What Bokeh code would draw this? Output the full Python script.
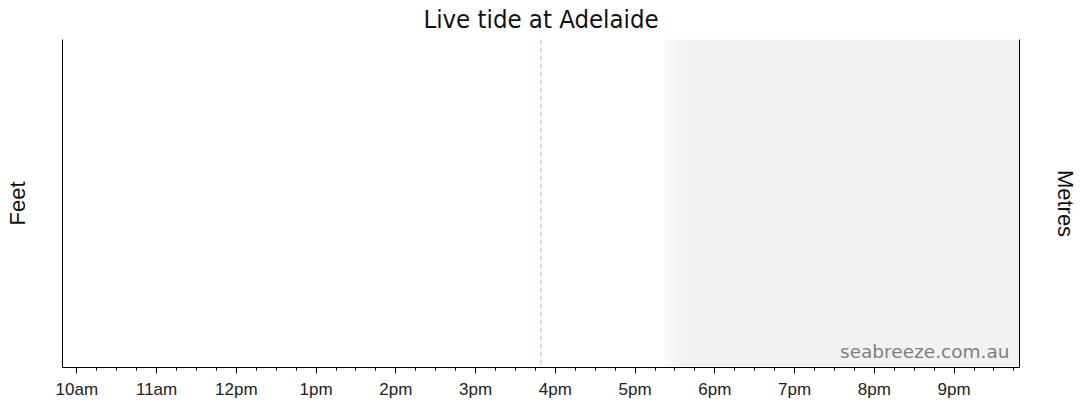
import numpy as np
from bokeh.plotting import figure
from bokeh.models import (LinearAxis, FixedTicker, Span, Label, Range1d,
                          ColumnDataSource)
from bokeh.embed import file_html
from bokeh.resources import INLINE

# ---- data ----
title_text = "Live tide at Adelaide"
now_hour = 15.82            # current time (about 3:49pm)
window_hours = 6.0          # chart shows now +/- 6 hours
tick_hours = [10, 11, 12, 13, 14, 15, 16, 17, 18, 19, 20, 21]
tick_labels = ["10am", "11am", "12pm", "1pm", "2pm", "3pm",
               "4pm", "5pm", "6pm", "7pm", "8pm", "9pm"]
minor_step = 0.25
night_fade_start = 17.34    # dusk fade begins
night_fade_end = 17.63      # full night shading
tide_feet = []              # no tide readings available
tide_times = []

x_start = now_hour - window_hours
x_end = now_hour + window_hours

FW, FH = 957, 328

p = figure(frame_width=FW, frame_height=FH, output_backend="svg", toolbar_location=None,
           x_range=Range1d(x_start, x_end), y_range=Range1d(0, 1),
           y_axis_location=None,
           min_border_left=62, min_border_right=56,
           min_border_top=39, min_border_bottom=39)
p.outline_line_color = None
p.grid.visible = False
p.background_fill_color = "white"
p.border_fill_color = "white"

# title
p.title.text = title_text
p.title.align = "center"
p.title.vertical_align = "top"
p.title.text_font = "DejaVu Sans Condensed"
p.title.text_font_size = "25.5px"
p.title.text_font_style = "normal"
p.title.text_color = "#111111"
p.title.standoff = 7

# night shading with fade
n_steps = 14
edges = np.linspace(night_fade_start, night_fade_end, n_steps + 1)
alphas = (np.arange(n_steps) + 0.5) / n_steps
fade = ColumnDataSource(dict(left=edges[:-1], right=edges[1:], alpha=alphas))
p.quad(left="left", right="right", bottom=0, top=1, source=fade,
       fill_color="#f2f2f2", fill_alpha="alpha", line_color="#f2f2f2",
       line_alpha="alpha", line_width=0.5)
p.quad(left=[night_fade_end], right=[x_end], bottom=[0], top=[1],
       fill_color="#f2f2f2", line_color=None)

# tide line (empty)
p.line(tide_times, tide_feet, line_color="#3b7dd8", line_width=2)

# now line
p.add_layout(Span(location=now_hour, dimension="height", line_color="#eca2a2",
                  line_width=1, line_dash="5 3"))

# x axis
xa = p.xaxis[0]
minor = list(np.arange(tick_hours[0] - 1, tick_hours[-1] + 1 + 1e-9, minor_step))
xa.ticker = FixedTicker(ticks=tick_hours, minor_ticks=minor)
xa.major_label_overrides = {h: lab for h, lab in zip(tick_hours, tick_labels)}
xa.major_label_text_font = "Liberation Sans"
xa.major_label_text_font_size = "17px"
xa.major_label_text_color = "#222222"
xa.major_tick_out = 6
xa.major_tick_in = 0
xa.minor_tick_out = 3
xa.minor_tick_in = 0
xa.major_label_standoff = 6
xa.axis_line_color = "black"
xa.major_tick_line_color = "black"
xa.minor_tick_line_color = "black"

# left / right axes
for side, label in (("left", "Feet"), ("right", "Metres")):
    ax = LinearAxis(axis_label=label, ticker=FixedTicker(ticks=[], minor_ticks=[]))
    ax.axis_label_text_font = "Liberation Sans"
    ax.axis_label_text_font_size = "22px"
    ax.axis_label_text_font_style = "normal"
    ax.axis_label_text_color = "#111111"
    ax.axis_label_standoff = 33
    ax.major_tick_out = 0
    ax.minor_tick_out = 0
    ax.axis_line_color = "black"
    p.add_layout(ax, side)

# watermark
p.add_layout(Label(x=FW - 10, y=16, x_units="screen", y_units="screen",
                   text="seabreeze.com.au", text_align="right",
                   text_baseline="alphabetic", text_font="DejaVu Sans",
                   text_font_size="18.5px", text_color="#808080"))

open("out.html", "w").write(file_html(p, INLINE))
